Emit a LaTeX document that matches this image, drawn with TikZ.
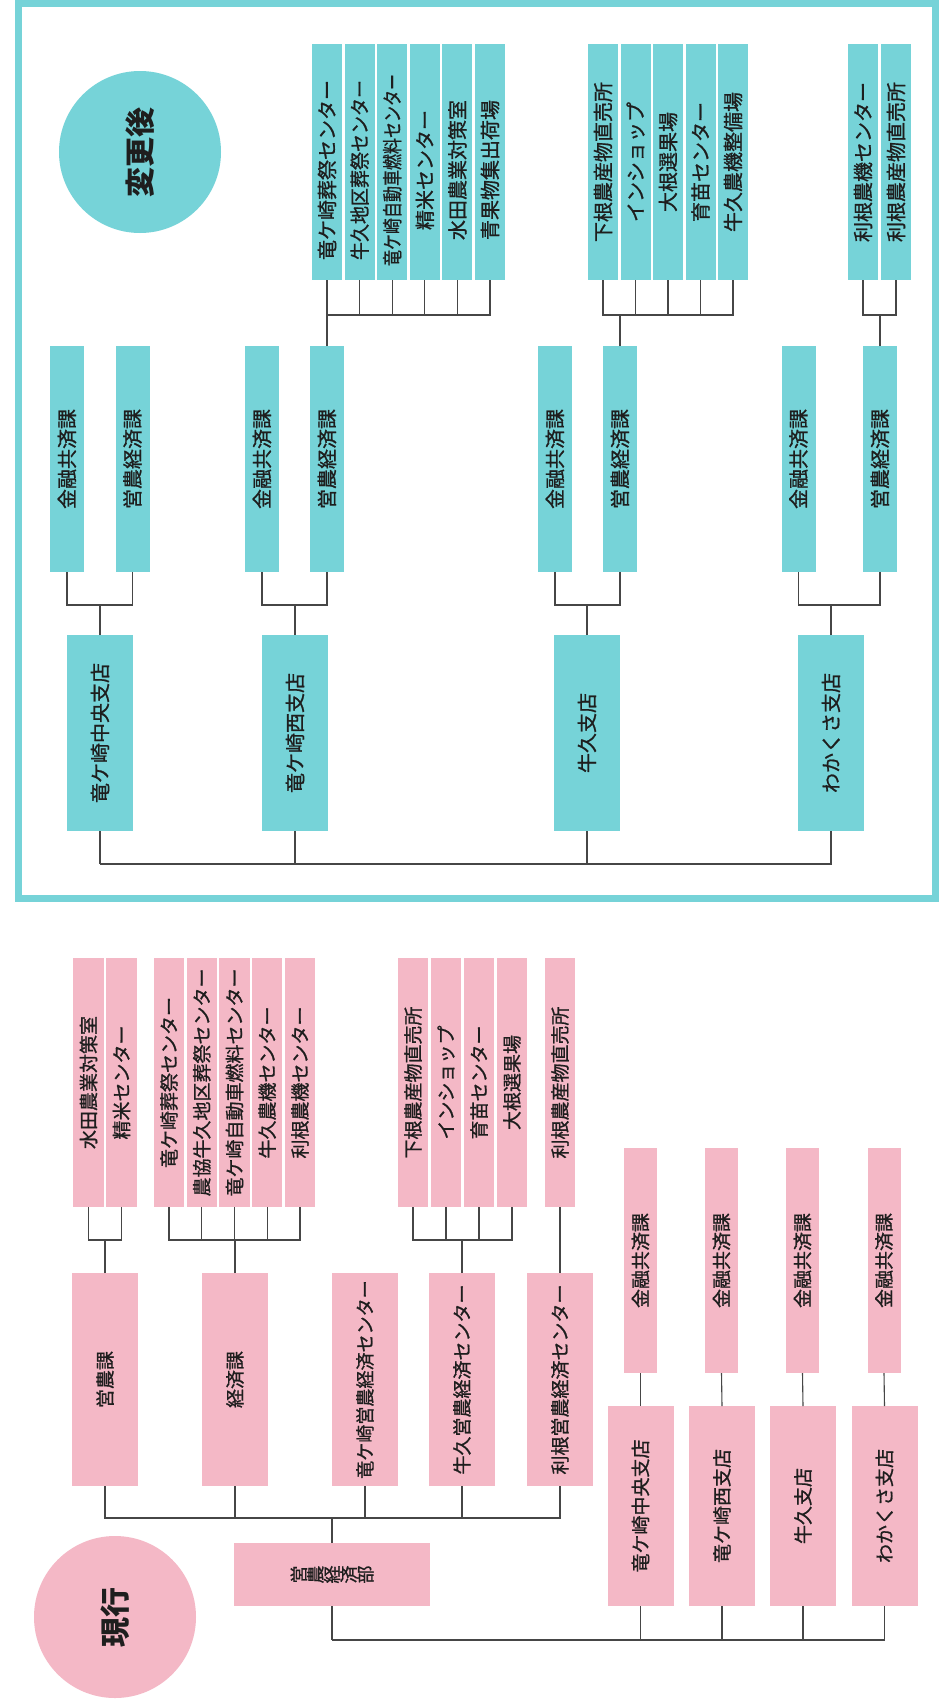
\documentclass[tikz,border=0pt]{standalone}
\usepackage{fontspec}
\newfontfamily\jp[FakeBold=0.9]{Noto Sans CJK JP}
\newfontfamily\jpb{Noto Sans CJK JP}
\definecolor{cy}{RGB}{118,211,216}
\definecolor{pk}{RGB}{244,184,198}
\definecolor{ln}{RGB}{70,70,70}
\definecolor{tx}{RGB}{30,30,30}
\newcommand{\vt}[1]{\rotatebox{90}{#1}}
\newcommand{\vd}[1]{\rotatebox{90}{\hspace*{-16pt}#1}}
\begin{document}
\begin{tikzpicture}[x=1pt,y=-1pt,
  every node/.style={inner sep=0pt, outer sep=0pt, text=tx},
  fa/.style={font=\jp\fontsize{20}{20}\selectfont},
  fb/.style={font=\jp\fontsize{19}{19}\selectfont},
  ccol/.style={fa, fill=cy, minimum width=30pt, minimum height=236pt},
  cmid/.style={fa, fill=cy, minimum width=34pt, minimum height=226pt},
  cbrs/.style={fa, fill=cy, minimum width=66pt, minimum height=196pt},
  pcol/.style={fb, fill=pk, minimum width=30.5pt, minimum height=249pt},
  pmid/.style={fb, fill=pk, minimum width=66pt, minimum height=213pt},
  pkin/.style={fb, fill=pk, minimum width=33pt, minimum height=225pt},
  pbrs/.style={fb, fill=pk, minimum width=66pt, minimum height=200pt},
  conn/.style={draw=ln, line width=1.1pt},
  circ/.style={circle, minimum size=162pt, font=\jpb\bfseries\fontsize{30}{30}\selectfont}
]
\useasboundingbox (0,0) rectangle (939,1708);
\fill[white] (0,0) rectangle (939,1708);

% ===== cyan (after change) =====
\draw[cy, line width=7pt] (18.5,3.5) rectangle (935.5,898.5);
\node[circ, fill=cy] (cv) at (140,152) {\vt{変更後}};

\foreach \x/\t [count=\i] in {327/{竜ケ崎葬祭センター},359.6/{\scalebox{.9}[1]{牛久地区葬祭センター}},392.2/{\scalebox{.8}[1]{竜ケ崎自動車燃料センター}},424.8/{精米センター},457.4/{水田農業対策室},490/{青果物集出荷場}}
  \node[ccol] (cw\i) at (\x,162) {\vd{\t}};
\foreach \x/\t [count=\i] in {603/{下根農産物直売所},635.5/{インショップ},668/{大根選果場},700.5/{育苗センター},733/{牛久農機整備場}}
  \node[ccol] (cu\i) at (\x,162) {\vt{\t}};
\foreach \x/\t [count=\i] in {863/{利根農機センター},896/{利根農産物直売所}}
  \node[ccol] (ck\i) at (\x,162) {\vt{\t}};

\foreach \x [count=\i] in {67,262,555,798.5}
  \node[cmid] (ckin\i) at (\x,459) {\vt{金融共済課}};
\foreach \x [count=\i] in {132.5,327,620,880}
  \node[cmid] (cei\i) at (\x,459) {\vt{営農経済課}};

\foreach \x/\t [count=\i] in {100/{竜ケ崎中央支店},295/{竜ケ崎西支店},587/{牛久支店},831/{わかくさ支店}}
  \node[cbrs] (cbr\i) at (\x,733) {\vt{\t}};

% cyan connectors
\draw[conn] (cei2.north) -- ++(0,-31) coordinate (bw);
\foreach \i in {1,...,6} \draw[conn] (cw\i.south) |- (bw);
\draw[conn] (cei3.north) -- ++(0,-31) coordinate (bu);
\foreach \i in {1,...,5} \draw[conn] (cu\i.south) |- (bu);
\draw[conn] (cei4.north) -- ++(0,-31) coordinate (bk);
\foreach \i in {1,2} \draw[conn] (ck\i.south) |- (bk);
\foreach \i in {1,...,4}{
  \draw[conn] (cbr\i.north) -- ++(0,-30) coordinate (bb\i);
  \draw[conn] (ckin\i.south) |- (bb\i);
  \draw[conn] (cei\i.south) |- (bb\i);
}
\draw[conn] (cbr1.south) -- ++(0,33) coordinate (cm);
\foreach \i in {2,3,4} \draw[conn] (cbr\i.south) |- (cm);

% ===== pink (current) =====
\node[circ, fill=pk] (pv) at (115,1617) {\vt{現行}};

\foreach \x/\t [count=\i] in {88.5/{水田農業対策室},121.5/{精米センター}}
  \node[pcol] (pa\i) at (\x,1082.5) {\vt{\t}};
\foreach \x/\t [count=\i] in {169/{竜ケ崎葬祭センター},201.8/{農協牛久地区葬祭センター},234.5/{竜ケ崎自動車燃料センター},267.2/{牛久農機センター},300/{利根農機センター}}
  \node[pcol] (pb\i) at (\x,1082.5) {\vt{\t}};
\foreach \x/\t [count=\i] in {413/{下根農産物直売所},446/{インショップ},479/{育苗センター},512/{大根選果場}}
  \node[pcol] (pc\i) at (\x,1082.5) {\vt{\t}};
\node[pcol] (pd1) at (560,1082.5) {\vt{利根農産物直売所}};

\foreach \x/\t [count=\i] in {105/{営農課},235/{経済課},365/{\scalebox{.95}[1]{竜ケ崎営農経済センター}},462/{牛久営農経済センター},560/{利根営農経済センター}}
  \node[pmid] (pm\i) at (\x,1379.5) {\vt{\t}};

\node[fb, fill=pk, minimum width=196pt, minimum height=63pt] (pbu) at (332,1574.5)
  {\fontsize{18}{18}\selectfont\vt{営}\vt{農}\vt{経}\vt{済}\vt{部}};

\foreach \x [count=\i] in {640.5,721.5,802.5,884}
  \node[pkin] (pk\i) at (\x,1260.5) {\vt{金融共済課}};
\foreach \x/\t [count=\i] in {640.5/{竜ケ崎中央支店},722/{竜ケ崎西支店},803/{牛久支店},884.5/{わかくさ支店}}
  \node[pbrs] (pbr\i) at (\x,1506) {\vt{\t}};

% pink connectors
\draw[conn] (pm1.north) -- ++(0,-33) coordinate (ba);
\foreach \i in {1,2} \draw[conn] (pa\i.south) |- (ba);
\draw[conn] (pm2.north) -- ++(0,-33) coordinate (bbb);
\foreach \i in {1,...,5} \draw[conn] (pb\i.south) |- (bbb);
\draw[conn] (pm4.north) -- ++(0,-33) coordinate (bc);
\foreach \i in {1,...,4} \draw[conn] (pc\i.south) |- (bc);
\draw[conn] (pd1.south) -- (pm5.north);

\draw[conn] (pbu.north) -- ++(0,-25) coordinate (pt);
\foreach \i in {1,...,5} \draw[conn] (pm\i.south) |- (pt);
\draw[conn] (pbu.south) -- ++(0,34) coordinate (pbt);
\foreach \i in {1,...,4}{
  \draw[conn] (pbr\i.south) |- (pbt);
  \draw[conn] (pk\i.south) -- (pbr\i.north);
}
\end{tikzpicture}
\end{document}
